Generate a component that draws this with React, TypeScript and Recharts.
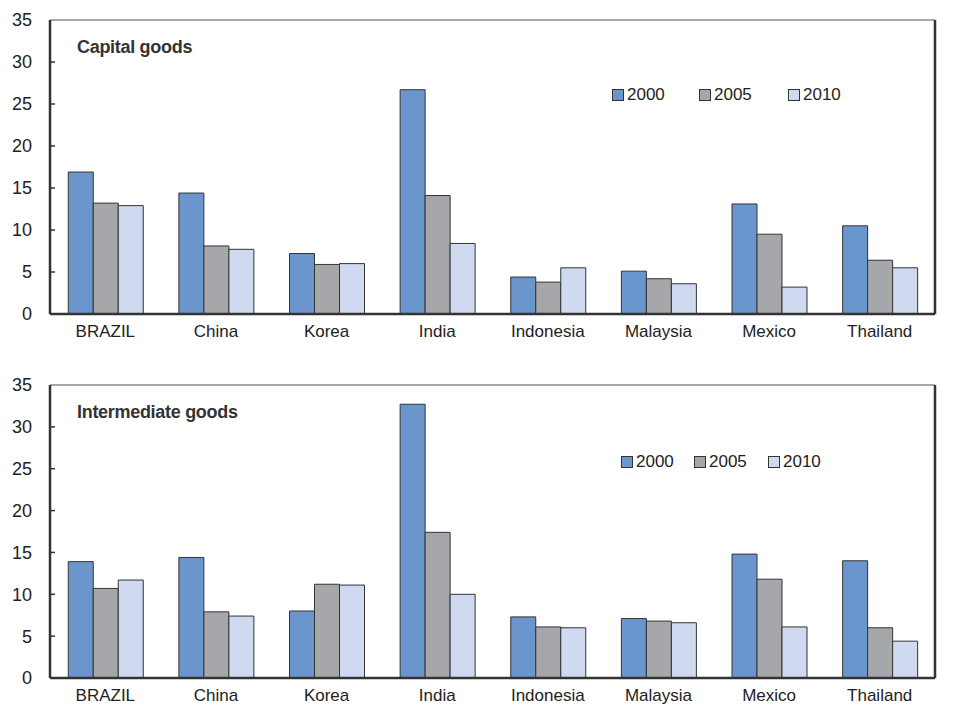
import React from "react";
import {
  BarChart,
  Bar,
  XAxis,
  YAxis,
  Legend,
  ReferenceLine,
} from "recharts";

const countries = ["BRAZIL", "China", "Korea", "India", "Indonesia", "Malaysia", "Mexico", "Thailand"];
const years = ["2000", "2005", "2010"];

const capital2000 = [16.9, 14.4, 7.2, 26.7, 4.4, 5.1, 13.1, 10.5];
const capital2005 = [13.2, 8.1, 5.9, 14.1, 3.8, 4.2, 9.5, 6.4];
const capital2010 = [12.9, 7.7, 6.0, 8.4, 5.5, 3.6, 3.2, 5.5];

const inter2000 = [13.9, 14.4, 8.0, 32.7, 7.3, 7.1, 14.8, 14.0];
const inter2005 = [10.7, 7.9, 11.2, 17.4, 6.1, 6.8, 11.8, 6.0];
const inter2010 = [11.7, 7.4, 11.1, 10.0, 6.0, 6.6, 6.1, 4.4];

const yTicks = [0, 5, 10, 15, 20, 25, 30, 35];

const COLORS = ["#6b96cd", "#a6a7aa", "#cfd9ef"];
const FONT = "'Liberation Sans', Arial, sans-serif";
const AXIS = "#333333";
const GAP = 18;

function buildRows(a: number[], b: number[], c: number[]) {
  return countries.map((name, i) => ({ name, y2000: a[i], y2005: b[i], y2010: c[i] }));
}

function makeYTick(side: "left" | "right") {
  return function YTick(props: any) {
    const { x, y, payload } = props;
    const v = payload.value;
    const axisX = side === "left" ? x + GAP : x - GAP;
    const inner = side === "left" ? axisX + 5 : axisX - 5;
    return (
      <g>
        {v !== 0 && v !== 35 && (
          <line x1={axisX} x2={inner} y1={y} y2={y} stroke={AXIS} strokeWidth={1.5} />
        )}
        <text
          x={x}
          y={y}
          dy="0.36em"
          textAnchor={side === "left" ? "end" : "start"}
          fontSize={18}
          fontFamily={FONT}
          fill="#222"
        >
          {v}
        </text>
      </g>
    );
  };
}

const LeftTick = makeYTick("left");
const RightTick = makeYTick("right");

// legend entries placed at fixed offsets inside the plot
function YearLegend({ payload, offsets }: any) {
  return (
    <div style={{ position: "relative", height: 14 }}>
      {(payload || []).map((entry: any, i: number) => (
        <div
          key={entry.value}
          style={{
            position: "absolute",
            left: offsets[i],
            top: 0,
            display: "flex",
            alignItems: "center",
            fontFamily: FONT,
            fontSize: 17,
            color: "#222",
            lineHeight: "14px",
          }}
        >
          <span
            style={{
              display: "inline-block",
              width: 10,
              height: 10,
              background: entry.color,
              border: "1px solid #333",
              marginRight: 3,
            }}
          />
          {entry.value}
        </div>
      ))}
    </div>
  );
}

type PanelProps = {
  title: string;
  rows: ReturnType<typeof buildRows>;
  height: number;
  marginTop: number;
  xAxisHeight: number;
  legendTop: number;
  legendLeft: number;
  legendOffsets: number[];
};

function Panel({ title, rows, height, marginTop, xAxisHeight, legendTop, legendLeft, legendOffsets }: PanelProps) {
  return (
    <div style={{ position: "relative", width: 975, height }}>
      <BarChart
        width={975}
        height={height}
        data={rows}
        margin={{ top: marginTop, right: 0, bottom: 0, left: 0 }}
        barCategoryGap="16.5%"
        barGap={0}
      >
        <XAxis
          dataKey="name"
          height={xAxisHeight}
          tickLine={false}
          tickSize={0}
          tickMargin={11}
          axisLine={{ stroke: AXIS, strokeWidth: 2.5 }}
          tick={{ fontSize: 17, fontFamily: FONT, fill: "#222" }}
          interval={0}
        />
        <YAxis
          yAxisId="left"
          orientation="left"
          width={50}
          domain={[0, 35]}
          ticks={yTicks}
          tickLine={false}
          tickSize={0}
          tickMargin={GAP}
          axisLine={{ stroke: AXIS, strokeWidth: 2.5 }}
          tick={<LeftTick />}
        />
        <YAxis
          yAxisId="right"
          orientation="right"
          width={40}
          domain={[0, 35]}
          ticks={yTicks}
          tickLine={false}
          tickSize={0}
          tickMargin={GAP}
          axisLine={{ stroke: AXIS, strokeWidth: 2.5 }}
          tick={<RightTick />}
        />
        <ReferenceLine yAxisId="left" y={35} stroke="#8a8a8a" strokeWidth={1.5} />
        <Legend
          layout="horizontal"
          verticalAlign="middle"
          align="center"
          wrapperStyle={{ position: "absolute", top: legendTop, left: legendLeft, width: 300 }}
          content={(p: any) => <YearLegend payload={p.payload} offsets={legendOffsets} />}
        />
        {years.map((yr, i) => (
          <Bar
            key={yr}
            yAxisId="left"
            dataKey={`y${yr}`}
            name={yr}
            fill={COLORS[i]}
            stroke="#333"
            strokeWidth={1}
            isAnimationActive={false}
          />
        ))}
      </BarChart>
      <div
        style={{
          position: "absolute",
          left: 77,
          top: marginTop + 17,
          fontFamily: FONT,
          fontWeight: "bold",
          fontSize: 18,
          color: "#333",
          lineHeight: "20px",
          letterSpacing: -0.3,
        }}
      >
        {title}
      </div>
    </div>
  );
}

export default function App() {
  return (
    <div style={{ width: 975, height: 706, background: "#fff" }}>
      <style>{`body{margin:0;background:#fff}`}</style>
      <Panel
        title="Capital goods"
        rows={buildRows(capital2000, capital2005, capital2010)}
        height={344}
        marginTop={20}
        xAxisHeight={30}
        legendTop={88}
        legendLeft={612}
        legendOffsets={[0, 87, 176]}
      />
      <Panel
        title="Intermediate goods"
        rows={buildRows(inter2000, inter2005, inter2010)}
        height={362}
        marginTop={41}
        xAxisHeight={28}
        legendTop={455 - 344}
        legendLeft={621}
        legendOffsets={[0, 73, 147]}
      />
    </div>
  );
}
